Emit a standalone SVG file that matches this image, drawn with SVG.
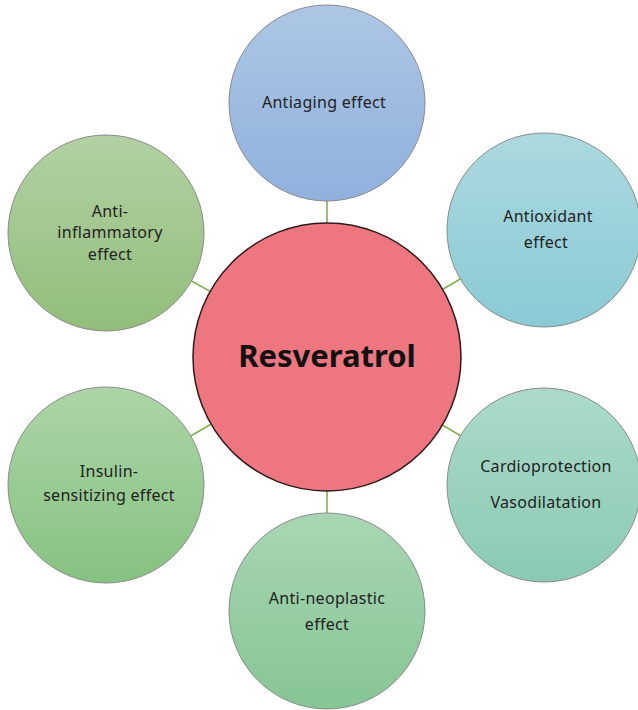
<svg xmlns="http://www.w3.org/2000/svg" width="638" height="710" viewBox="0 0 638 710">
<defs>
<linearGradient id="gBlue" x1="0" y1="0" x2="0" y2="1"><stop offset="0" stop-color="#adc6e5"/><stop offset="1" stop-color="#8fb1dc"/></linearGradient>
<linearGradient id="gCyan" x1="0" y1="0" x2="0" y2="1"><stop offset="0" stop-color="#acd9df"/><stop offset="1" stop-color="#8acad5"/></linearGradient>
<linearGradient id="gOlive" x1="0" y1="0" x2="0" y2="1"><stop offset="0" stop-color="#b3d0a3"/><stop offset="1" stop-color="#92be7a"/></linearGradient>
<linearGradient id="gGreen" x1="0" y1="0" x2="0" y2="1"><stop offset="0" stop-color="#acd5a7"/><stop offset="1" stop-color="#86c281"/></linearGradient>
<linearGradient id="gTeal" x1="0" y1="0" x2="0" y2="1"><stop offset="0" stop-color="#acdacb"/><stop offset="1" stop-color="#8acab2"/></linearGradient>
<linearGradient id="gMint" x1="0" y1="0" x2="0" y2="1"><stop offset="0" stop-color="#a8d6b4"/><stop offset="1" stop-color="#87c595"/></linearGradient>
</defs>
<style>
.sat{stroke:#8a8a8a;stroke-width:1}
.hub{fill:#ee7680;stroke:#2e1a1a;stroke-width:1.5}
.lbl{font-family:"Noto Sans","DejaVu Sans",sans-serif;font-size:16px;letter-spacing:0.3px;fill:#222;text-anchor:middle}
.hubt{font-family:"Noto Sans","DejaVu Sans",sans-serif;font-size:31px;font-weight:bold;fill:#111;text-anchor:middle}
.con{stroke:#7aab45;stroke-width:1.5;fill:none}
</style>
<rect width="638" height="710" fill="#fff"/>
<g id="connectors">
<line class="con" x1="327" y1="357" x2="327" y2="103"/>
<line class="con" x1="327" y1="357" x2="544" y2="230"/>
<line class="con" x1="327" y1="357" x2="106" y2="233"/>
<line class="con" x1="327" y1="357" x2="106" y2="485"/>
<line class="con" x1="327" y1="357" x2="544" y2="485"/>
<line class="con" x1="327" y1="357" x2="327" y2="611"/>
</g>
<g id="antiaging">
<circle class="sat" cx="327" cy="103" r="98" fill="url(#gBlue)"/>
<text class="lbl" x="324" y="108">Antiaging effect</text>
</g>
<g id="antioxidant">
<circle class="sat" cx="544" cy="230" r="97" fill="url(#gCyan)"/>
<text class="lbl" x="548" y="222">Antioxidant</text>
<text class="lbl" x="546" y="248">effect</text>
</g>
<g id="antiinflammatory">
<circle class="sat" cx="106" cy="233" r="98" fill="url(#gOlive)"/>
<text class="lbl" x="110" y="217">Anti-</text>
<text class="lbl" x="110" y="238">inflammatory</text>
<text class="lbl" x="110" y="260">effect</text>
</g>
<g id="insulin">
<circle class="sat" cx="106" cy="485" r="98" fill="url(#gGreen)"/>
<text class="lbl" x="109" y="477">Insulin-</text>
<text class="lbl" x="109" y="501">sensitizing effect</text>
</g>
<g id="cardio">
<circle class="sat" cx="544" cy="485" r="97" fill="url(#gTeal)"/>
<text class="lbl" x="546" y="472">Cardioprotection</text>
<text class="lbl" x="546" y="508">Vasodilatation</text>
</g>
<g id="antineoplastic">
<circle class="sat" cx="327" cy="611" r="98" fill="url(#gMint)"/>
<text class="lbl" x="327" y="604">Anti-neoplastic</text>
<text class="lbl" x="327" y="630">effect</text>
</g>
<g id="resveratrol">
<circle class="hub" cx="327" cy="357" r="134"/>
<text class="hubt" x="327" y="367">Resveratrol</text>
</g>
</svg>
